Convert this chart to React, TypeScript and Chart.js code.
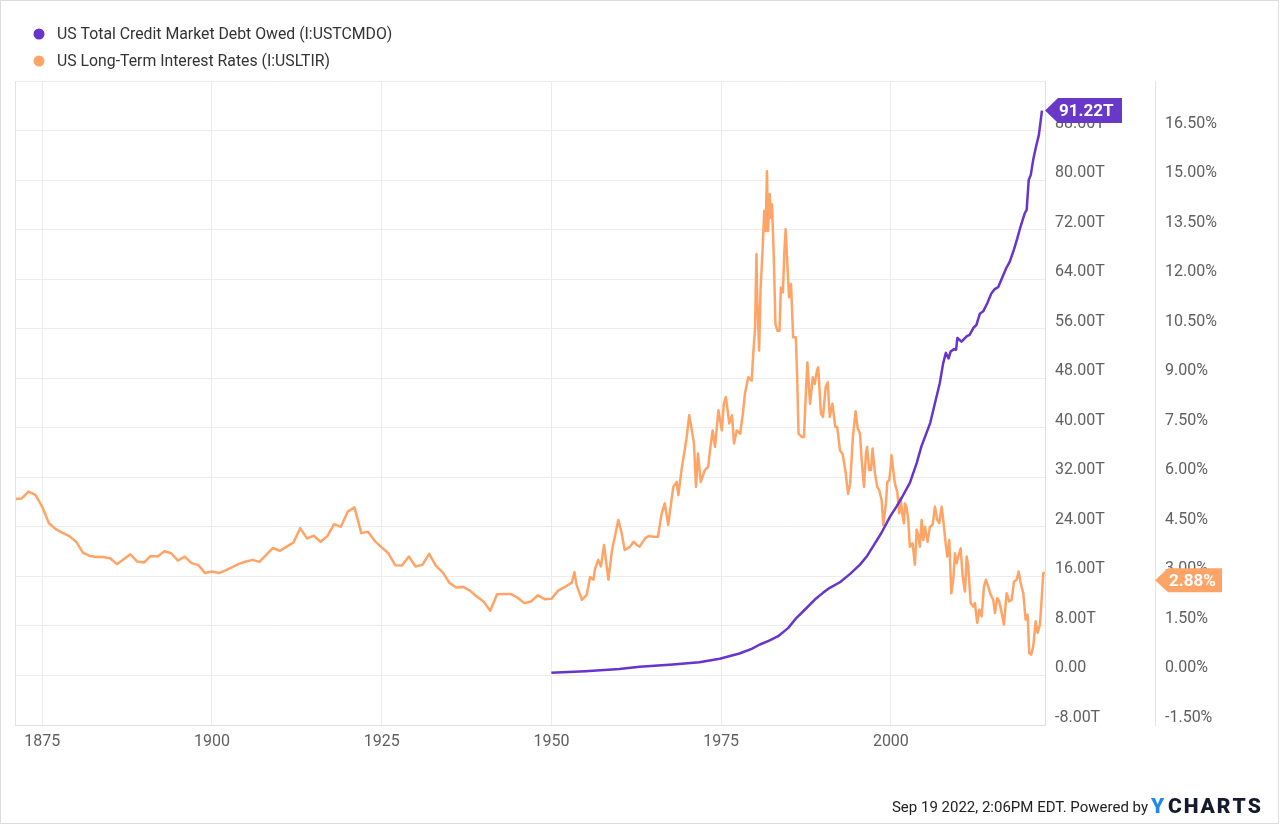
import React, { useEffect, useRef } from 'react';
import { Chart, registerables } from 'chart.js';

Chart.register(...registerables);

const seriesLabels = [
  'US Total Credit Market Debt Owed (I:USTCMDO)',
  'US Long-Term Interest Rates (I:USLTIR)',
];
const seriesColors = ['#6734cc', '#ffa467'];

const xTickYears = [1875, 1900, 1925, 1950, 1975, 2000];
const xMin = 1871;
const xMax = 2022.7;

const debtMin = -8;
const debtMax = 96;
const debtStep = 8;
const rateMin = -1.5;
const rateMax = 18;
const rateStep = 1.5;

const latestDebt = 91.22;
const latestRate = 2.88;
const latestDebtLabel = '91.22T';
const latestRateLabel = '2.88%';
const footerText = 'Sep 19 2022, 2:06PM EDT. Powered by';

// Annual long-term rates, 1871 .. 1952
const annualRateStartYear = 1871;
const annualRates = [
  5.34, 5.36, 5.57, 5.47, 5.11, 4.61, 4.43, 4.32, 4.22, 4.05,
  3.72, 3.62, 3.59, 3.59, 3.55, 3.37, 3.52, 3.67, 3.45, 3.42,
  3.62, 3.60, 3.76, 3.70, 3.48, 3.60, 3.40, 3.34, 3.10, 3.15,
  3.10, 3.18, 3.28, 3.38, 3.45, 3.50, 3.44, 3.65, 3.86, 3.77,
  3.90, 4.02, 4.46, 4.15, 4.23, 4.05, 4.22, 4.58, 4.50, 4.96,
  5.09, 4.31, 4.35, 4.07, 3.88, 3.70, 3.34, 3.33, 3.60, 3.30,
  3.35, 3.68, 3.32, 3.12, 2.80, 2.66, 2.68, 2.57, 2.39, 2.24,
  1.96, 2.46, 2.47, 2.47, 2.36, 2.19, 2.24, 2.43, 2.31, 2.32,
  2.57, 2.68,
];

// Long-term rates from 1953 on (year, %)
const modernRates: [number, number][] = [
  [1953.0, 2.81], [1953.4, 3.13], [1953.7, 2.75], [1954.5, 2.29], [1955.2, 2.44],
  [1955.7, 2.98], [1956.2, 2.90], [1956.4, 3.20], [1956.9, 3.50], [1957.3, 3.30],
  [1957.75, 3.95], [1958.4, 2.90], [1958.9, 3.75], [1959.85, 4.71], [1960.35, 4.31],
  [1960.8, 3.80], [1961.2, 3.85], [1961.6, 3.90], [1962.1, 4.05], [1962.6, 3.95],
  [1963.0, 3.90], [1963.8, 4.15], [1964.3, 4.22], [1965.0, 4.20], [1965.7, 4.20],
  [1966.2, 4.86], [1966.7, 5.21], [1967.2, 4.56], [1967.95, 5.71], [1968.45, 5.86],
  [1968.7, 5.46], [1969.2, 6.27], [1969.9, 7.17], [1970.3, 7.88], [1970.65, 7.47],
  [1971.0, 7.02], [1971.3, 5.71], [1971.6, 6.72], [1972.0, 5.86], [1972.6, 6.22],
  [1973.1, 6.32], [1973.36, 6.82], [1973.75, 7.42], [1974.1, 6.92], [1974.6, 8.03],
  [1975.1, 7.42], [1975.4, 8.23], [1975.7, 8.43], [1976.2, 7.63], [1976.6, 7.88],
  [1976.9, 7.02], [1977.3, 7.42], [1977.8, 7.32], [1978.2, 7.93], [1978.5, 8.53],
  [1979.0, 9.03], [1979.5, 8.93], [1979.7, 9.64], [1980.0, 10.54], [1980.2, 12.76],
  [1980.3, 11.55], [1980.6, 9.84], [1980.8, 11.65], [1981.1, 12.86], [1981.35, 14.06],
  [1981.55, 13.46], [1981.75, 15.27], [1981.9, 13.46], [1982.15, 14.57], [1982.3, 13.86],
  [1982.5, 14.26], [1982.8, 12.35], [1983.0, 10.64], [1983.3, 10.44], [1983.6, 10.44],
  [1983.8, 11.75], [1984.1, 11.60], [1984.3, 12.76], [1984.5, 13.51], [1984.7, 12.66],
  [1985.0, 11.45], [1985.3, 11.85], [1985.6, 10.24], [1986.0, 10.24], [1986.2, 9.03],
  [1986.4, 7.32], [1986.9, 7.22], [1987.2, 7.22], [1987.5, 8.63], [1987.7, 9.48],
  [1988.1, 8.23], [1988.5, 9.03], [1988.8, 8.83], [1989.1, 9.23], [1989.3, 9.33],
  [1989.7, 7.93], [1990.0, 7.83], [1990.4, 8.73], [1990.7, 8.88], [1991.0, 7.83],
  [1991.4, 8.23], [1991.8, 7.52], [1992.1, 7.52], [1992.5, 6.82], [1992.9, 6.70],
  [1993.3, 6.20], [1993.7, 5.50], [1994.0, 5.80], [1994.4, 7.20], [1994.8, 8.00],
  [1995.1, 7.50], [1995.45, 7.32], [1995.7, 6.52], [1996.04, 5.71], [1996.33, 6.72],
  [1996.5, 6.92], [1996.8, 6.22], [1997.07, 6.22], [1997.3, 6.87], [1997.65, 6.12],
  [1997.99, 5.71], [1998.29, 5.61], [1998.64, 5.31], [1998.88, 4.56], [1999.28, 5.21],
  [1999.47, 5.86], [1999.76, 5.91], [1999.97, 6.32], [2000.1, 6.67], [2000.35, 6.22],
  [2000.6, 5.81], [2000.94, 5.56], [2001.23, 4.91], [2001.44, 5.36], [2001.67, 4.91],
  [2001.92, 4.61], [2002.06, 5.21], [2002.3, 5.11], [2002.56, 4.71], [2002.8, 3.90],
  [2003.2, 4.00], [2003.54, 3.35], [2003.8, 4.41], [2004.03, 4.25], [2004.28, 3.90],
  [2004.53, 4.71], [2004.77, 4.10], [2005.02, 4.50], [2005.4, 4.05], [2005.75, 4.50],
  [2006.15, 4.56], [2006.49, 5.11], [2006.83, 4.71], [2007.12, 4.61], [2007.48, 5.11],
  [2007.71, 4.71], [2008.07, 4.00], [2008.3, 3.60], [2008.6, 4.10], [2008.9, 2.49],
  [2009.19, 2.90], [2009.44, 3.70], [2009.69, 3.40], [2009.92, 3.60], [2010.28, 3.85],
  [2010.57, 3.00], [2010.91, 2.54], [2011.16, 3.60], [2011.4, 3.30], [2011.75, 2.19],
  [2012.13, 2.09], [2012.38, 2.19], [2012.72, 1.59], [2013.01, 1.99], [2013.37, 1.79],
  [2013.71, 2.69], [2014.0, 2.90], [2014.34, 2.69], [2014.7, 2.44], [2015.08, 2.29],
  [2015.33, 1.89], [2015.67, 2.34], [2015.96, 2.24], [2016.32, 1.89], [2016.65, 1.54],
  [2017.05, 2.49], [2017.43, 2.24], [2017.79, 2.29], [2018.13, 2.84], [2018.52, 2.90],
  [2018.82, 3.15], [2019.11, 2.80], [2019.5, 2.49], [2019.85, 1.69], [2020.14, 1.84],
  [2020.38, 0.68], [2020.67, 0.63], [2020.97, 0.88], [2021.32, 1.64], [2021.62, 1.29],
  [2021.96, 1.54], [2022.2, 2.29], [2022.45, 3.10], [2022.7, 3.12],
];

// Total credit market debt (year, trillions USD)
const debtPoints: [number, number][] = [
  [1950.0, 0.43], [1955.0, 0.70], [1960.0, 1.05], [1963.0, 1.40], [1967.9, 1.77],
  [1971.8, 2.15], [1974.8, 2.69], [1977.7, 3.55], [1979.5, 4.30], [1980.7, 5.00],
  [1982.0, 5.60], [1983.4, 6.34], [1984.9, 7.69], [1986.1, 9.31], [1987.1, 10.37],
  [1988.8, 12.26], [1990.0, 13.34], [1991.0, 14.15], [1992.5, 15.05], [1994.0, 16.40],
  [1995.45, 17.90], [1996.5, 19.30], [1997.4, 20.90], [1998.6, 23.00], [1999.9, 25.70],
  [2000.85, 27.30], [2001.6, 28.70], [2002.8, 31.10], [2003.8, 34.30], [2004.5, 37.00],
  [2005.8, 40.80], [2006.5, 44.00], [2007.2, 47.20], [2007.7, 50.40], [2008.1, 52.10],
  [2008.5, 51.20], [2008.8, 52.30], [2009.3, 52.70], [2009.6, 52.60], [2009.8, 54.50],
  [2010.4, 53.90], [2011.2, 54.80], [2011.6, 55.00], [2012.2, 56.20], [2012.6, 56.60],
  [2013.1, 58.40], [2013.6, 58.80], [2014.2, 60.10], [2014.8, 61.70], [2015.3, 62.40],
  [2015.8, 62.70], [2016.3, 64.00], [2017.0, 65.80], [2017.5, 66.80], [2018.1, 68.70],
  [2018.6, 70.50], [2019.1, 72.50], [2019.7, 74.60], [2020.0, 75.20], [2020.3, 80.00],
  [2020.6, 80.80], [2021.0, 83.50], [2021.4, 85.50], [2021.8, 87.30], [2022.25, 91.22],
];

const FONT = 'Roboto, "Noto Sans", Arial, sans-serif';

function drawTag(ctx: CanvasRenderingContext2D, tipX: number, y: number, right: number, h: number, color: string, text: string) {
  ctx.save();
  ctx.fillStyle = color;
  ctx.beginPath();
  ctx.moveTo(tipX, y);
  ctx.lineTo(tipX + 13, y - h / 2);
  ctx.lineTo(right, y - h / 2);
  ctx.lineTo(right, y + h / 2);
  ctx.lineTo(tipX + 13, y + h / 2);
  ctx.closePath();
  ctx.fill();
  ctx.fillStyle = '#ffffff';
  ctx.font = `bold 17px ${FONT}`;
  ctx.textAlign = 'left';
  ctx.textBaseline = 'middle';
  ctx.fillText(text, tipX + 14, y + 1);
  ctx.restore();
}

const decorPlugin = {
  id: 'decor',
  beforeDraw(chart: any) {
    const ctx = chart.ctx as CanvasRenderingContext2D;
    ctx.save();
    ctx.fillStyle = '#ffffff';
    ctx.fillRect(0, 0, chart.width, chart.height);
    ctx.restore();
  },
  afterDraw(chart: any) {
    const ctx = chart.ctx as CanvasRenderingContext2D;
    const { left, top, bottom, right } = chart.chartArea;
    ctx.save();
    // left frame of plot
    ctx.strokeStyle = '#e2e2e2';
    ctx.lineWidth = 1;
    ctx.beginPath();
    ctx.moveTo(left + 0.5, top);
    ctx.lineTo(left + 0.5, bottom);
    ctx.stroke();
    // outer border
    ctx.strokeStyle = '#dddddd';
    ctx.strokeRect(0.5, 0.5, chart.width - 2, chart.height - 3);

    // legend
    ctx.font = `15.8px ${FONT}`;
    ctx.textAlign = 'left';
    ctx.textBaseline = 'middle';
    const legendY = [34, 61];
    seriesLabels.forEach((lab, i) => {
      ctx.fillStyle = seriesColors[i];
      ctx.beginPath();
      ctx.arc(39, legendY[i], 5.5, 0, Math.PI * 2);
      ctx.fill();
      ctx.fillStyle = '#333333';
      ctx.fillText(lab, 57, legendY[i] + 1);
    });

    // latest value tags
    const yDebt = chart.scales.y.getPixelForValue(latestDebt);
    drawTag(ctx, right, yDebt, right + 77, 25, '#6a38c9', latestDebtLabel);
    const y1 = chart.scales.y1;
    const yRate = y1.getPixelForValue(latestRate);
    drawTag(ctx, y1.left, yRate, y1.left + 67, 24, '#ffa467', latestRateLabel);

    // footer
    ctx.font = `15px ${FONT}`;
    ctx.fillStyle = '#222222';
    ctx.textAlign = 'right';
    ctx.fillText(footerText, 1148, 808);
    ctx.textAlign = 'left';
    ctx.font = `900 21px ${FONT}`;
    ctx.fillStyle = '#1f8be6';
    ctx.fillText('Y', 1151, 808);
    ctx.fillStyle = '#161a2e';
    let lx = 1168;
    'CHARTS'.split('').forEach((ch) => {
      ctx.fillText(ch, lx, 808);
      lx += ctx.measureText(ch).width + 2;
    });
    ctx.restore();
  },
};

export default function App() {
  const canvasRef = useRef<HTMLCanvasElement | null>(null);

  useEffect(() => {
    document.body.style.margin = '0';
    const canvas = canvasRef.current;
    if (!canvas) return;

    const rateData = [
      ...annualRates.map((v, i) => ({ x: annualRateStartYear + i, y: v })),
      ...modernRates.map(([x, y]) => ({ x, y })),
    ];
    const debtData = debtPoints.map(([x, y]) => ({ x, y }));

    const chart = new Chart(canvas, {
      type: 'line',
      data: {
        datasets: [
          {
            label: seriesLabels[0],
            data: debtData,
            yAxisID: 'y',
            borderColor: seriesColors[0],
            borderWidth: 2.5,
            pointRadius: 0,
            tension: 0,
            borderJoinStyle: 'round',
          },
          {
            label: seriesLabels[1],
            data: rateData,
            yAxisID: 'y1',
            borderColor: seriesColors[1],
            borderWidth: 2.5,
            pointRadius: 0,
            tension: 0,
            borderJoinStyle: 'round',
          },
        ],
      },
      options: {
        animation: false,
        responsive: false,
        devicePixelRatio: 1,
        layout: { padding: { left: 15, top: 81, right: 0, bottom: 0 } },
        plugins: {
          legend: { display: false },
          tooltip: { enabled: false },
        },
        font: { family: FONT },
        scales: {
          x: {
            type: 'linear',
            min: xMin,
            max: xMax,
            afterBuildTicks: (scale: any) => {
              scale.ticks = xTickYears.map((v) => ({ value: v }));
            },
            afterFit: (scale: any) => {
              scale.height = 101;
            },
            grid: { color: '#ececec', drawTicks: false },
            border: { display: true, color: '#e0e0e0' },
            ticks: {
              autoSkip: false,
              maxRotation: 0,
              padding: 7,
              color: '#606060',
              font: { family: FONT, size: 16 },
              callback: (v: any) => String(v),
            },
          },
          y: {
            type: 'linear',
            position: 'right',
            min: debtMin,
            max: debtMax,
            afterFit: (scale: any) => {
              scale.width = 110;
            },
            grid: { color: '#ececec', drawTicks: false },
            border: { display: true, color: '#e0e0e0' },
            ticks: {
              stepSize: debtStep,
              autoSkip: false,
              padding: 10,
              labelOffset: -7,
              color: '#606060',
              font: { family: FONT, size: 16 },
              callback: (v: any) => {
                const n = Number(v);
                if (Math.abs(n - debtMax) < 1e-6) return '';
                if (Math.abs(n) < 1e-9) return '0.00';
                return `${n.toFixed(2)}T`;
              },
            },
          },
          y1: {
            type: 'linear',
            position: 'right',
            min: rateMin,
            max: rateMax,
            afterFit: (scale: any) => {
              scale.width = 125;
            },
            grid: { display: false, drawTicks: false },
            border: { display: true, color: '#e4e4e4' },
            ticks: {
              stepSize: rateStep,
              autoSkip: false,
              padding: 10,
              labelOffset: -7,
              color: '#606060',
              font: { family: FONT, size: 16 },
              callback: (v: any) => {
                const n = Number(v);
                if (Math.abs(n - rateMax) < 1e-6) return '';
                return `${(Math.abs(n) < 1e-9 ? 0 : n).toFixed(2)}%`;
              },
            },
          },
        },
      } as any,
      plugins: [decorPlugin],
    });

    return () => {
      chart.destroy();
    };
  }, []);

  return (
    <div style={{ width: 1280, height: 826, position: 'relative', background: '#fff' }}>
      <canvas ref={canvasRef} width={1280} height={826} style={{ display: 'block', width: 1280, height: 826 }} />
    </div>
  );
}
